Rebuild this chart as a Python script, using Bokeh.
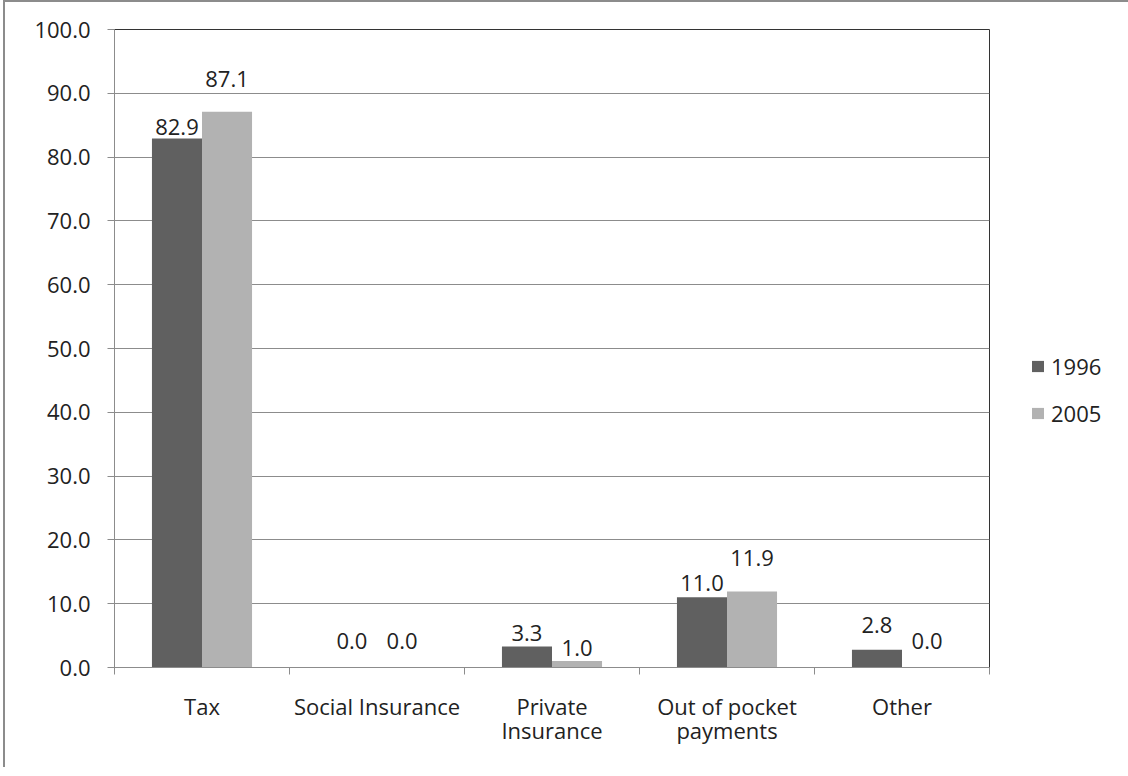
from bokeh.plotting import figure
from bokeh.models import (Range1d, FixedTicker, NumeralTickFormatter, ColumnDataSource,
                          Legend, LegendItem)
from bokeh.transform import dodge
from bokeh.core.properties import value
from bokeh.embed import file_html
from bokeh.resources import INLINE

# ---- data ----
categories = ["Tax", "Social Insurance", "Private\nInsurance", "Out of pocket\npayments", "Other"]
years = ["1996", "2005"]
share_1996 = [82.9, 0.0, 3.3, 11.0, 2.8]
share_2005 = [87.1, 0.0, 1.0, 11.9, 0.0]
y_ticks = [0, 10, 20, 30, 40, 50, 60, 70, 80, 90, 100]

# ---- styling (label lift in pixels, as in the original) ----
lift_1996 = [4, 19, 5, 6, 17]
lift_2005 = [25, 19, 5, 26, 19]
dark = "#606060"
light = "#b2b2b2"
font = "Open Sans"
fsize = "22px"

n = len(categories)
pos = [i + 0.5 for i in range(n)]
src = ColumnDataSource(dict(
    pos=pos, cat=categories,
    v1996=share_1996, v2005=share_2005,
    l1996=[f"{v:.1f}" for v in share_1996], l2005=[f"{v:.1f}" for v in share_2005],
    o1996=[-v for v in lift_1996], o2005=[-v for v in lift_2005],
))

p = figure(frame_width=875, frame_height=638,
           x_range=Range1d(0, n), y_range=Range1d(0, 100),
           output_backend="svg", toolbar_location=None,
           min_border_left=109, min_border_top=27, min_border_right=130, min_border_bottom=100,
           background_fill_color="white", border_fill_color="white")
p.styles = {"border-left": "2px solid #8c8c8c", "border-top": "2px solid #8c8c8c",
            "margin-left": "3px"}

bw = 0.286
r1 = p.vbar(x=dodge("pos", -bw / 2), top="v1996", width=bw, source=src,
            fill_color=dark, line_color=None)
r2 = p.vbar(x=dodge("pos", bw / 2), top="v2005", width=bw, source=src,
            fill_color=light, line_color=None)

for xoff, col, off in [(-bw / 2, "l1996", "o1996"), (bw / 2, "l2005", "o2005")]:
    p.text(x=dodge("pos", xoff), y=col.replace("l", "v"), text=col, y_offset=off, source=src,
           text_align="center", text_baseline="bottom",
           text_font=value(font), text_font_size=fsize, text_color="#222222")

# y axis
p.yaxis.ticker = FixedTicker(ticks=y_ticks, minor_ticks=[])
p.yaxis.formatter = NumeralTickFormatter(format="0.0")
p.yaxis.axis_line_color = "#8c8c8c"
p.yaxis.major_tick_line_color = "#8c8c8c"
p.yaxis.major_tick_out = 7
p.yaxis.major_tick_in = 0
p.yaxis.major_label_standoff = 17
p.yaxis.major_label_text_font = font
p.yaxis.major_label_text_font_size = fsize
p.yaxis.major_label_text_color = "#222222"

# x axis: labels at category centres, tick marks at category edges
p.xaxis.ticker = FixedTicker(ticks=pos, minor_ticks=list(range(n + 1)))
p.xaxis.major_label_overrides = {pp: c for pp, c in zip(pos, categories)}
p.xaxis.axis_line_color = "#8c8c8c"
p.xaxis.major_tick_line_color = None
p.xaxis.major_tick_out = 0
p.xaxis.major_tick_in = 0
p.xaxis.minor_tick_line_color = "#8c8c8c"
p.xaxis.minor_tick_out = 7
p.xaxis.minor_tick_in = 0
p.xaxis.major_label_standoff = 16
p.xaxis.major_label_text_line_height = 0.8
p.xaxis.major_label_text_font = font
p.xaxis.major_label_text_font_size = fsize
p.xaxis.major_label_text_color = "#222222"

p.xgrid.grid_line_color = None
p.ygrid.ticker = FixedTicker(ticks=y_ticks, minor_ticks=[])
p.ygrid.grid_line_color = "#8c8c8c"
p.outline_line_color = "#333333"

legend = Legend(items=[LegendItem(label=years[0], renderers=[r1]),
                       LegendItem(label=years[1], renderers=[r2])],
                location=(41, 239), orientation="vertical",
                border_line_color=None, background_fill_alpha=0,
                padding=0, margin=0, glyph_width=15, glyph_height=14,
                label_standoff=6, label_height=26, spacing=17,
                label_text_font=font, label_text_font_size=fsize,
                label_text_color="#222222")
p.add_layout(legend, "right")

open("out.html", "w").write(file_html(p, INLINE))
